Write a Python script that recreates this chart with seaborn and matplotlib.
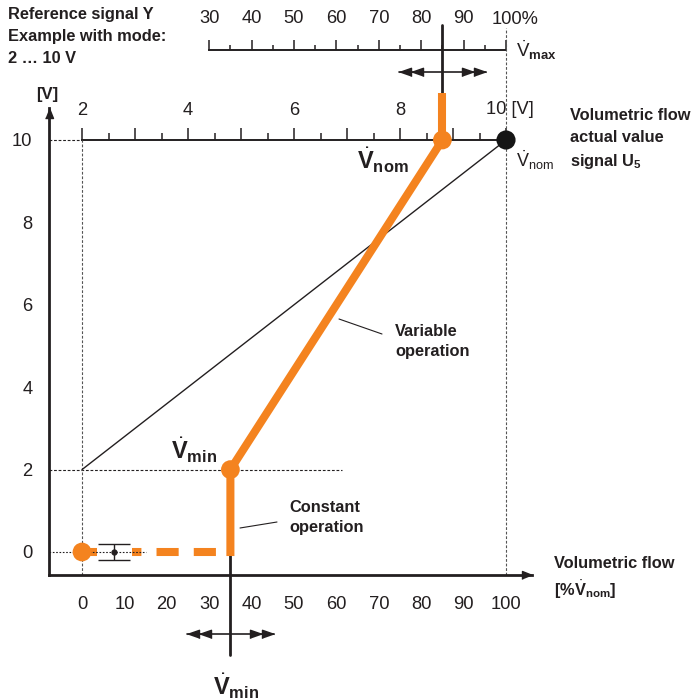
import matplotlib
matplotlib.use("Agg")
import matplotlib.pyplot as plt
import seaborn as sns
from matplotlib.ticker import FixedLocator, FuncFormatter

# ---------------- data ----------------
flow_ticks = [0, 10, 20, 30, 40, 50, 60, 70, 80, 90, 100]          # [% V_nom]
flow_minor = [5, 15, 25, 35, 45, 55, 65, 75, 85, 95]
signal_ticks = [0, 1, 2, 3, 4, 5, 6, 7, 8, 9, 10]                    # [V]
signal_minor = [0.5, 1.5, 2.5, 3.5, 4.5, 5.5, 6.5, 7.5, 8.5, 9.5]
ref_pct_ticks = [30, 40, 50, 60, 70, 80, 90, 100]                    # reference signal Y [% V_max]
ref_pct_minor = [35, 45, 55, 65, 75, 85, 95]
u5_ticks = [2, 3, 4, 5, 6, 7, 8, 9, 10]                              # actual value signal U5 [V]
u5_minor = [2.5, 3.5, 4.5, 5.5, 6.5, 7.5, 8.5, 9.5]

curve_flow = [35, 35, 85]          # variable operation (orange)
curve_signal = [0, 2, 10]
char_flow = [0, 100]               # 2...10 V characteristic
char_signal = [2, 10]
const_flow = [0, 35]               # constant operation (dashed orange)
const_signal = [0, 0]
orange_pts_flow = [0, 35, 85]
orange_pts_signal = [0, 2, 10]
nom_pt_flow = [100]
nom_pt_signal = [10]
vmin_pct = 35
vnom_pct = 85
adj_outer = 10.3
adj_inner = 7.5
tol_center = 7.5
tol_half = 0.19

ORANGE = "#F4831F"
INK = "#231F20"

sns.set_style("white")
plt.rcParams["font.family"] = ["Liberation Sans", "DejaVu Sans"]
plt.rcParams["mathtext.fontset"] = "custom"
plt.rcParams["mathtext.rm"] = "Liberation Sans"
plt.rcParams["mathtext.it"] = "Liberation Sans:italic"
plt.rcParams["mathtext.bf"] = "Liberation Sans:bold"
plt.rcParams["mathtext.sf"] = "Liberation Sans"

W, H = 692, 700
fig = plt.figure(figsize=(W / 100, H / 100), dpi=100)
fig.patch.set_facecolor("white")

# pixel <-> data layout helpers
X0, SX = 82, 4.24
Y0, SY = 552, 41.2
def px2x(px):
    return (px - X0) / SX
def py2y(py):
    return (Y0 - py) / SY

L, R, T, B = 49, 532, 108, 575
TICK_FS = 13.2

# secondary scales (drawn below main axes)
axp = fig.add_axes([L / W, 1 - 50 / H, (R - L) / W, 20 / H])
axp.set_xlim(px2x(L), px2x(R))
axu = fig.add_axes([L / W, 1 - 140 / H, (R - L) / W, 18 / H])
axu.set_xlim(2 + 0.08 * px2x(L), 2 + 0.08 * px2x(R))
for a in (axp, axu):
    a.patch.set_visible(False)
    for s in ["left", "right", "top"]:
        a.spines[s].set_visible(False)
    a.spines["bottom"].set_color(INK)
    a.spines["bottom"].set_linewidth(1.4)
    a.set_yticks([])
    a.tick_params(axis="x", which="both", direction="in", bottom=True, top=False,
                  labelbottom=False, labeltop=True, pad=2, labelsize=TICK_FS,
                  colors=INK, width=1.1)
axp.spines["bottom"].set_bounds(30, 100)
axp.xaxis.set_major_locator(FixedLocator(ref_pct_ticks))
axp.xaxis.set_minor_locator(FixedLocator(ref_pct_minor))
axp.xaxis.set_major_formatter(FuncFormatter(lambda v, p: "" if v >= 100 else f"{int(v)}"))
axp.tick_params(axis="x", which="major", length=7.2)
axp.tick_params(axis="x", which="minor", length=3.6)

axu.spines["bottom"].set_bounds(2, 10)
axu.xaxis.set_major_locator(FixedLocator(u5_ticks))
axu.xaxis.set_minor_locator(FixedLocator(u5_minor))
axu.xaxis.set_major_formatter(FuncFormatter(
    lambda v, p: f"{int(v)}" if (int(v) % 2 == 0 and v < 10) else ""))
axu.tick_params(axis="x", which="major", length=8.6)
axu.tick_params(axis="x", which="minor", length=5)

# main axes
ax = fig.add_axes([L / W, 1 - B / H, (R - L) / W, (B - T) / H])
ax.set_zorder(3)
ax.patch.set_visible(False)
ax.set_xlim(px2x(L), px2x(R))
ax.set_ylim(py2y(B), py2y(T))
for s in ["top", "right"]:
    ax.spines[s].set_visible(False)
for s in ["left", "bottom"]:
    ax.spines[s].set_linewidth(2)
    ax.spines[s].set_color(INK)

ax.xaxis.set_major_locator(FixedLocator(flow_ticks))
ax.xaxis.set_minor_locator(FixedLocator(flow_minor))
ax.yaxis.set_major_locator(FixedLocator(signal_ticks))
ax.yaxis.set_minor_locator(FixedLocator(signal_minor))
ax.yaxis.set_major_formatter(FuncFormatter(lambda v, p: f"{int(v)}" if int(v) % 2 == 0 else ""))
ax.tick_params(axis="both", which="both", colors=INK, width=1.1, labelsize=TICK_FS)
ax.tick_params(axis="x", which="major", length=9.4, pad=6)
ax.tick_params(axis="x", which="minor", length=5.8)
ax.tick_params(axis="y", which="major", length=8, pad=4)
ax.tick_params(axis="y", which="minor", length=5)

# axis arrowheads
tip_right = [(0, 0), (-2, 0.8), (-2, -0.8)]
tip_up = [(0, 0), (0.8, -2), (-0.8, -2)]
ax.plot(1, 0, marker=tip_right, ms=14.4, color=INK, transform=ax.transAxes, clip_on=False, ls="none")
ax.plot(0, 1, marker=tip_up, ms=14.4, color=INK, transform=ax.transAxes, clip_on=False, ls="none")

# helper dashed lines
dash = (0, (2.5, 1.6))
xl0 = px2x(L)
yl0 = py2y(B)
ax.plot([xl0, 0], [10, 10], ls=dash, lw=0.8, color=INK, zorder=1)
ax.plot([xl0, 61.3], [2, 2], ls=dash, lw=0.8, color=INK, zorder=1)
ax.plot([xl0, 15], [0, 0], ls=(0, (1.5, 1.5)), lw=0.8, color=INK, zorder=4.5)
ax.plot([0, 0], [yl0, 10], ls=dash, lw=0.8, color="#555555", zorder=1)
ax.plot([100, 100], [yl0, py2y(28)], ls=dash, lw=0.8, color="#555555", zorder=1, clip_on=False)

# characteristic line
sns.lineplot(x=char_flow, y=char_signal, color=INK, lw=1.0, sort=False, estimator=None,
             ax=ax, zorder=2)

# constant operation (dashed)
ax.plot(const_flow, const_signal, color=ORANGE, lw=5.8, ls=(0, (2.75, 1.875)), zorder=3)
ax.fill_between([3.5, 11.8], -tol_half, tol_half, color="white", lw=0, zorder=4)
ax.errorbar(tol_center, 0, yerr=tol_half, fmt="o", ms=3.5, color=INK, capsize=11.2,
            capthick=1.0, elinewidth=1.0, zorder=5)

# variable operation (orange)
sns.lineplot(x=curve_flow, y=curve_signal, color=ORANGE, lw=5.8, sort=False, estimator=None,
             ax=ax, zorder=6, solid_capstyle="projecting")
ax.plot([vnom_pct, vnom_pct], [10, py2y(93)], color=ORANGE, lw=5.8, solid_capstyle="butt",
        clip_on=False, zorder=6)

sns.scatterplot(x=orange_pts_flow, y=orange_pts_signal, s=182, color=ORANGE, edgecolor="none",
                linewidth=0, ax=ax, zorder=7, clip_on=False)
sns.scatterplot(x=nom_pt_flow, y=nom_pt_signal, s=190, color="#151515", edgecolor="none",
                linewidth=0, ax=ax, zorder=7, clip_on=False)

# adjustment indicators
tip_l = [(0, 0), (2, 0.7), (2, -0.7)]
tip_r = [(0, 0), (-2, 0.7), (-2, -0.7)]
def range_arrow(center, y):
    ax.plot([center - adj_outer, center + adj_outer], [y, y], color=INK, lw=1.2, clip_on=False)
    ax.plot([center - adj_outer, center - adj_inner], [y, y], ls="none", marker=tip_l, ms=17.3,
            color=INK, clip_on=False)
    ax.plot([center + adj_outer, center + adj_inner], [y, y], ls="none", marker=tip_r, ms=17.3,
            color=INK, clip_on=False)

ax.plot([vmin_pct, vmin_pct], [0, py2y(655)], color=INK, lw=2, clip_on=False, zorder=2)
range_arrow(vmin_pct, py2y(634))
ax.plot([vnom_pct, vnom_pct], [py2y(93), py2y(25)], color=INK, lw=2, clip_on=False, zorder=2)
range_arrow(vnom_pct, py2y(72))

ax.set_xlabel("")
ax.set_ylabel("")

# texts
fig.text(8 / W, 1 - 7 / H, "Reference signal Y\nExample with mode:\n2 … 10 V", ha="left", va="top",
         fontsize=11.8, fontweight="bold", linespacing=1.6, color=INK)
fig.text(36 / W, 1 - 95 / H, "[V]", ha="left", va="center", fontsize=12, fontweight="bold", color=INK)

bigV = dict(ha="center", va="center", fontsize=17, color=INK)
ax.text(px2x(383), py2y(160), r"$\dot{\mathbf{V}}_{\mathbf{nom}}$", **bigV)
ax.text(px2x(194), py2y(450), r"$\dot{\mathbf{V}}_{\mathbf{min}}$", **bigV)
ax.text(px2x(236), py2y(686), r"$\dot{\mathbf{V}}_{\mathbf{min}}$", **bigV)

bold = dict(ha="left", va="top", fontsize=11.8, fontweight="bold", color=INK)
ax.text(px2x(395), py2y(324), "Variable\noperation", linespacing=1.45, **bold)
ax.text(px2x(289), py2y(500), "Constant\noperation", linespacing=1.45, **bold)
ax.text(px2x(570), py2y(108), "Volumetric flow\nactual value\nsignal $\\mathbf{U_5}$",
        linespacing=1.55, **bold)
ax.text(px2x(554), py2y(556), "Volumetric flow\n[%$\\dot{\\mathbf{V}}_{\\mathbf{nom}}$]",
        linespacing=1.45, **bold)

ax.plot([px2x(339), px2x(382)], [py2y(319), py2y(334)], color=INK, lw=0.8)
ax.plot([px2x(240), px2x(277)], [py2y(528), py2y(522)], color=INK, lw=0.8)

ax.text(px2x(516), py2y(50), r"$\dot{\mathrm{V}}_{\mathbf{max}}$", ha="left", va="center",
        fontsize=13.5, color=INK)
ax.text(px2x(516), py2y(160), r"$\dot{\mathrm{V}}_{\mathrm{nom}}$", ha="left", va="center",
        fontsize=13, color=INK)
ax.text(px2x(492), py2y(20), "100%", ha="left", va="center", fontsize=TICK_FS, color=INK)
ax.text(px2x(486), py2y(110), "10 [V]", ha="left", va="center", fontsize=TICK_FS, color=INK)

fig.savefig("out.png", dpi=100, facecolor="white")
